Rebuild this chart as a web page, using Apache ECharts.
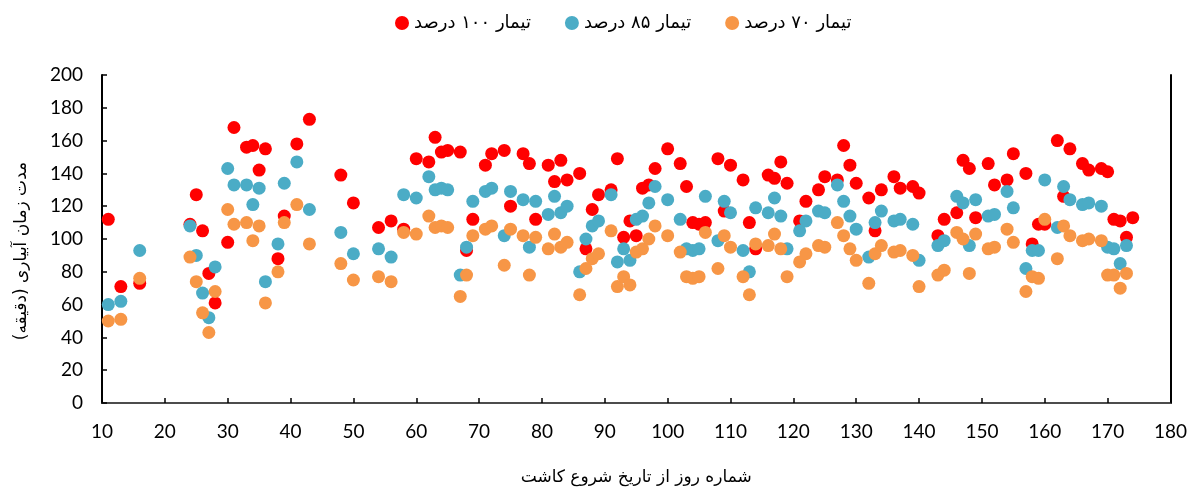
<!DOCTYPE html>
<html>
<head>
<meta charset="utf-8">
<script src="https://cdn.jsdelivr.net/npm/echarts@6/dist/echarts.min.js"></script>
<style>html,body{margin:0;padding:0;background:#fff}#c{width:1190px;height:491px}</style>
</head>
<body>
<div id="c"></div>
<script>
var days = [11,13,16,24,25,26,27,28,30,31,33,34,35,36,38,39,41,43,48,50,54,56,58,60,62,63,64,65,67,68,69,71,72,74,75,77,78,79,81,82,83,84,86,87,88,89,91,92,93,94,95,96,97,98,100,102,103,104,105,106,108,109,110,112,113,114,116,117,118,119,121,122,124,125,127,128,129,130,132,133,134,136,137,139,140,143,144,146,147,148,149,151,152,154,155,157,158,159,160,162,163,164,166,167,169,170,171,172,173,174];
var t100 = [112,71,73,109,127,105,79,61,98,168,156,157,142,155,88,114,158,173,139,122,107,111,106,149,147,162,153,154,153,93,112,145,152,154,120,152,146,112,145,135,148,136,140,94,118,127,130,149,101,111,102,131,133,143,155,146,132,110,109,110,149,117,145,136,110,94,139,137,147,134,111,123,130,138,136,157,145,134,125,105,130,138,131,132,128,102,112,116,148,143,113,146,133,136,152,140,97,109,109,160,126,155,146,142,143,141,112,111,101,113];
var t85 = [60,62,93,108,90,67,52,83,143,133,133,121,131,74,97,134,147,118,104,91,94,89,127,125,138,130,131,130,78,95,123,129,131,102,129,124,95,123,115,126,116,120,80,100,108,111,127,86,94,87,112,114,122,132,124,112,94,93,94,126,99,123,116,93,80,119,116,125,114,94,105,111,117,116,133,123,114,106,89,110,117,111,112,109,87,96,99,126,122,96,124,114,115,129,119,82,93,93,136,107,132,124,121,122,120,95,94,85,96,null];
var t70 = [50,51,76,89,74,55,43,68,118,109,110,99,108,61,80,110,121,97,85,75,77,74,104,103,114,107,108,107,65,78,102,106,108,84,106,102,78,101,94,103,95,98,66,82,88,91,105,71,77,72,92,94,100,108,102,92,77,76,77,104,82,102,95,77,66,97,96,103,94,77,86,91,96,95,110,102,94,87,73,91,96,92,93,90,71,78,81,104,100,79,103,94,95,106,98,68,77,76,112,88,108,102,99,100,99,78,78,70,79,null];
var seriesNames = ['تیمار ۱۰۰ درصد','تیمار ۸۵ درصد','تیمار ۷۰ درصد'];
var xTitle = 'شماره روز از تاریخ شروع کاشت';
var yTitle = 'مدت زمان آبیاری (دقیقه)';

function pairs(vals){ var out=[]; for(var i=0;i<days.length;i++){ if(vals[i]!=null) out.push([days[i], vals[i]]); } return out; }

var chart = echarts.init(document.getElementById('c'));
var colors = ['#FF0000','#4BACC6','#F79646'];
var lab = {fontFamily:'Lato, "Open Sans", sans-serif', fontSize:19, color:'#000'};
var fa = '"DejaVu Sans", sans-serif';
chart.setOption({
  animation:false,
  color: colors,
  legend:{
    top:9, left:390, itemGap:34, itemWidth:14, itemHeight:14,
    textStyle:{fontFamily:fa, fontSize:18, color:'#000'},
    data: seriesNames.map(function(n){return {name:n, icon:'circle'};})
  },
  grid:{left:102, right:17, top:75, bottom:78},
  xAxis:[{
    type:'value', min:10, max:180, interval:10,
    axisLine:{lineStyle:{color:'#000', width:2}},
    axisTick:{inside:true, length:5, lineStyle:{color:'#000', width:1.5}},
    axisLabel:Object.assign({margin:19}, lab),
    splitLine:{show:false},
    name:xTitle, nameLocation:'middle', nameGap:66,
    nameTextStyle:{fontFamily:fa, fontSize:17, color:'#000'}
  },{
    type:'value', min:10, max:180, position:'top',
    axisLine:{show:true, lineStyle:{color:'#666', width:1.5}},
    axisTick:{show:false}, axisLabel:{show:false}, splitLine:{show:false}
  }],
  yAxis:[{
    type:'value', min:0, max:200, interval:20,
    axisLine:{show:true, lineStyle:{color:'#000', width:2}},
    axisTick:{show:true, inside:true, length:5, lineStyle:{color:'#000', width:1.5}},
    axisLabel:Object.assign({margin:19}, lab),
    splitLine:{show:false},
    name:yTitle, nameLocation:'middle', nameGap:72, nameRotate:90,
    nameTextStyle:{fontFamily:fa, fontSize:17, color:'#000', padding:[0,24,0,0]}
  },{
    type:'value', min:0, max:200, position:'right',
    axisLine:{show:true, lineStyle:{color:'#000', width:2}},
    axisTick:{show:false}, axisLabel:{show:false}, splitLine:{show:false}
  }],
  series:[
    {name:seriesNames[0], type:'scatter', symbolSize:13, data:pairs(t100), itemStyle:{opacity:1}},
    {name:seriesNames[1], type:'scatter', symbolSize:13, data:pairs(t85), itemStyle:{opacity:1}},
    {name:seriesNames[2], type:'scatter', symbolSize:13, data:pairs(t70), itemStyle:{opacity:1}}
  ]
});
</script>
</body>
</html>
